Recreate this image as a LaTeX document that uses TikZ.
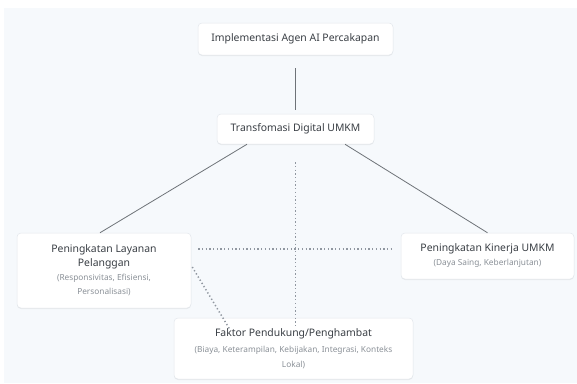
\documentclass[tikz,border=0pt]{standalone}
\usepackage{fontspec}
\setmainfont{Noto Sans}
\usetikzlibrary{shadows}
\definecolor{bgc}{HTML}{F6F9FC}
\definecolor{bordc}{HTML}{E3E7EC}
\definecolor{titc}{HTML}{3A3F45}
\definecolor{subc}{HTML}{8A9097}
\definecolor{linec}{HTML}{6E7378}
\definecolor{dotc}{HTML}{9097A0}
\tikzset{
  box/.style={draw=bordc, line width=0.5pt, fill=white, rounded corners=4pt,
    align=center, inner sep=0pt, text=titc,
    drop shadow={shadow xshift=0pt, shadow yshift=-1pt, opacity=0.06, fill=black}},
  tit/.style={font=\fontsize{10.4}{15}\selectfont},
  solidline/.style={draw=linec, line width=0.8pt},
  dotline/.style={draw=dotc, line width=1.5pt, dash pattern=on 1.3pt off 2.4pt},
}
\newcommand{\subt}[1]{{\fontsize{8.3}{13}\selectfont\color{subc}#1}}
\begin{document}
\begin{tikzpicture}[x=1pt,y=-1pt]
\useasboundingbox (0,0) rectangle (577,383);
\fill[white] (0,0) rectangle (577,383);
\fill[bgc] (4,8) rectangle (577,383);

\node[box, tit, minimum width=195pt, minimum height=32pt] (impl) at (295.5,39) {Implementasi Agen AI Percakapan};
\node[box, tit, minimum width=157pt, minimum height=30pt] (trans) at (295.5,129) {Transfomasi Digital UMKM};
\node[box, tit, minimum width=174pt, minimum height=75pt] (lay) at (104,270.5)
  {Peningkatan Layanan\\[-1pt]Pelanggan\\[-1pt]\subt{(Responsivitas, Efisiensi,}\\[-1pt]\subt{Personalisasi)}};
\node[box, tit, minimum width=173pt, minimum height=46pt] (kin) at (487.5,256)
  {Peningkatan Kinerja UMKM\\[-1pt]\subt{(Daya Saing, Keberlanjutan)}};
\node[box, tit, minimum width=239pt, minimum height=61pt] (fak) at (293.5,348.5)
  {Faktor Pendukung/Penghambat\\[1pt]\subt{(Biaya, Keterampilan, Kebijakan, Integrasi, Konteks}\\\subt{Lokal)}};

\draw[solidline] ([yshift=-13pt]impl.south) -- ([yshift=4pt]trans.north);
\draw[solidline] ([xshift=-48.5pt]trans.south) -- ([xshift=-4pt]lay.north);
\draw[solidline] ([xshift=49.5pt]trans.south) -- ([xshift=0pt]kin.north);

\draw[dotline] ([yshift=-18pt]trans.south) -- ([xshift=2pt,yshift=-9pt]fak.north);
\draw[dotline] ([xshift=7pt,yshift=21.5pt]lay.east) -- ([xshift=-8pt,yshift=7pt]kin.west);
\draw[dotline] ([xshift=1pt,yshift=3.5pt]lay.east) -- ([xshift=-63.5pt,yshift=-12pt]fak.north);
\end{tikzpicture}
\end{document}
